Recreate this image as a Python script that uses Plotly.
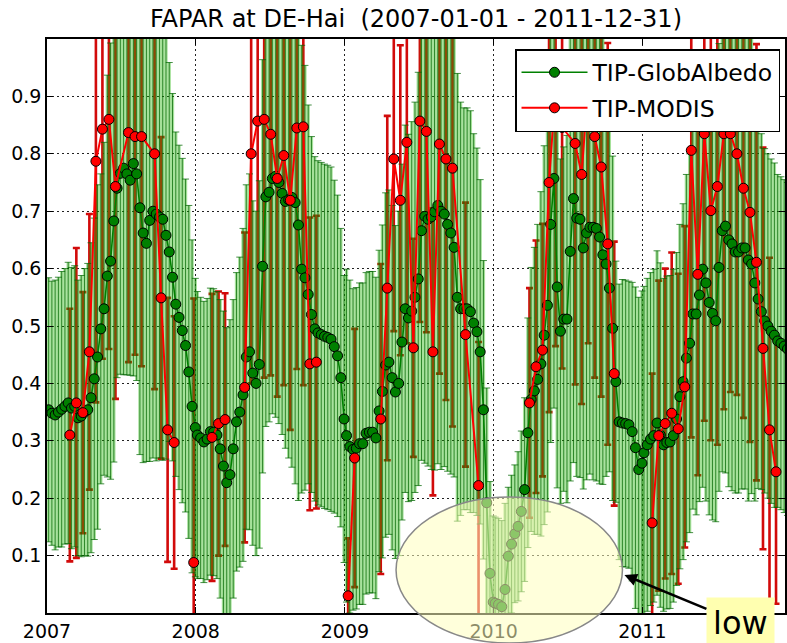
import pandas as pd
import plotly.graph_objects as go

years = [2007, 2008, 2009, 2010, 2011]

# TIP-GlobAlbedo FAPAR, 8-day composites (46 per year)
ga_2007 = [0.354, 0.348, 0.345, 0.35, 0.355, 0.36, 0.366, 0.357, 0.36, 0.34, 0.343, 0.35, 0.354,
           0.375, 0.408, 0.446, 0.495, 0.53, 0.587, 0.613, 0.683, 0.74, 0.766, 0.775, 0.765, 0.754,
           0.783, 0.765, 0.706, 0.662, 0.644, 0.684, 0.70, 0.695, 0.69, 0.686, 0.658, 0.629, 0.585,
           0.538, 0.515, 0.492, 0.466, 0.42, 0.36, 0.323]
ga_2008 = [0.31, 0.305, 0.298, 0.303, 0.316, 0.315, 0.31, 0.286, 0.256, 0.227, 0.241, 0.286, 0.333,
           0.35, 0.38, 0.446, 0.455, 0.418, 0.40, 0.433, 0.604, 0.725, 0.733, 0.757, 0.761, 0.75,
           0.731, 0.717, 0.72, 0.724, 0.715, 0.676, 0.599, 0.584, 0.555, 0.52, 0.495, 0.488, 0.485,
           0.482, 0.48, 0.477, 0.464, 0.448, 0.41, 0.338]
ga_2009 = [0.309, 0.29, 0.285, 0.287, 0.295, 0.295, 0.313, 0.315, 0.315, 0.305, 0.352, 0.386, 0.432,
           0.437, 0.41, 0.385, 0.40, 0.472, 0.53, 0.514, 0.526, 0.55, 0.582, 0.666, 0.691, 0.686,
           0.69, 0.699, 0.71, 0.70, 0.695, 0.677, 0.662, 0.637, 0.55, 0.53, 0.53, 0.53, 0.525,
           0.505, 0.49, 0.455, 0.354, 0.192, 0.069, 0.019]
ga_2010 = [0.017, 0.015, 0.011, 0.041, 0.099, 0.12, 0.138, 0.151, 0.177, 0.215, 0.314, 0.372, 0.387,
           0.407, 0.434, 0.484, 0.536, 0.677, 0.757, 0.568, 0.491, 0.512, 0.512, 0.63, 0.722, 0.688,
           0.686, 0.636, 0.662, 0.672, 0.672, 0.67, 0.655, 0.624, 0.608, 0.566, 0.496, 0.403, 0.333,
           0.331, 0.33, 0.328, 0.316, 0.288, 0.25, 0.261]
ga_2011 = [0.279, 0.293, 0.303, 0.309, 0.331, 0.31, 0.293, 0.297, 0.298, 0.309, 0.338, 0.377, 0.403,
           0.444, 0.47, 0.521, 0.521, 0.554, 0.599, 0.575, 0.541, 0.522, 0.509, 0.602, 0.666, 0.674,
           0.65, 0.643, 0.629, 0.629, 0.636, 0.636, 0.615, 0.608, 0.575, 0.547, 0.525, 0.509, 0.50,
           0.491, 0.484, 0.474, 0.47, 0.465, 0.46, 0.455]

# TIP-GlobAlbedo 1-sigma uncertainty
ga_sigma_2007 = [0.23, 0.23, 0.235, 0.235, 0.24, 0.24, 0.245, 0.245, 0.245, 0.24, 0.245, 0.25, 0.255,
                 0.27, 0.28, 0.30, 0.27, 0.29, 0.35, 0.38, 0.42, 0.33, 0.35, 0.36, 0.35, 0.34,
                 0.37, 0.36, 0.43, 0.40, 0.38, 0.42, 0.43, 0.43, 0.42, 0.42, 0.39, 0.33, 0.32,
                 0.30, 0.30, 0.30, 0.29, 0.29, 0.29, 0.26]
ga_sigma_2008 = [0.25, 0.245, 0.245, 0.245, 0.25, 0.25, 0.25, 0.26, 0.27, 0.27, 0.27, 0.26, 0.26,
                 0.27, 0.29, 0.30, 0.31, 0.30, 0.30, 0.32, 0.36, 0.40, 0.40, 0.41, 0.42, 0.42,
                 0.42, 0.43, 0.45, 0.47, 0.49, 0.48, 0.39, 0.37, 0.33, 0.31, 0.30, 0.30, 0.30,
                 0.30, 0.30, 0.30, 0.29, 0.28, 0.26, 0.25]
ga_sigma_2009 = [0.29, 0.29, 0.28, 0.28, 0.28, 0.28, 0.28, 0.28, 0.28, 0.28, 0.28, 0.29, 0.30,
                 0.30, 0.30, 0.29, 0.30, 0.31, 0.32, 0.32, 0.33, 0.34, 0.36, 0.40, 0.43, 0.43,
                 0.44, 0.45, 0.45, 0.45, 0.44, 0.43, 0.42, 0.40, 0.39, 0.36, 0.35, 0.35, 0.35,
                 0.33, 0.32, 0.30, 0.26, 0.20, 0.16, 0.15]
ga_sigma_2010 = [0.15, 0.15, 0.15, 0.15, 0.12, 0.12, 0.12, 0.13, 0.14, 0.16, 0.20, 0.23, 0.25,
                 0.27, 0.30, 0.33, 0.36, 0.38, 0.40, 0.35, 0.30, 0.30, 0.32, 0.40, 0.46, 0.45,
                 0.45, 0.42, 0.43, 0.43, 0.44, 0.44, 0.43, 0.40, 0.37, 0.32, 0.30, 0.21, 0.24,
                 0.25, 0.25, 0.25, 0.26, 0.28, 0.30, 0.30]
ga_sigma_2011 = [0.29, 0.29, 0.29, 0.29, 0.30, 0.30, 0.29, 0.29, 0.29, 0.29, 0.29, 0.30, 0.31,
                 0.32, 0.33, 0.34, 0.35, 0.36, 0.38, 0.38, 0.37, 0.36, 0.35, 0.39, 0.42, 0.43,
                 0.43, 0.43, 0.42, 0.42, 0.42, 0.42, 0.42, 0.40, 0.38, 0.33, 0.31, 0.30, 0.30,
                 0.30, 0.30, 0.29, 0.29, 0.29, 0.29, 0.29]

# TIP-MODIS FAPAR, 16-day composites (23 per year), None = no retrieval
modis_2007 = [None, None, None, 0.31, 0.366, 0.349, 0.455, 0.787, 0.843, 0.86, 0.743, None,
              0.837, 0.83, 0.83, None, 0.80, 0.549, 0.319, 0.297, None, None, 0.088]
modis_2008 = [None, None, 0.306, 0.33, 0.337, None, None, 0.393, 0.80, 0.857, 0.86, 0.834,
              0.757, 0.797, 0.719, 0.845, 0.847, 0.434, 0.437, None, None, None, None]
modis_2009 = [0.03, 0.27, None, None, None, 0.338, 0.566, 0.791, 0.719, 0.82, 0.462, 0.857,
              0.839, 0.455, 0.817, 0.791, 0.775, None, 0.485, None, 0.222, None, None]
modis_2010 = [None, None, None, None, None, 0.366, 0.429, 0.458, 0.75, 0.915, 0.846, None,
              0.818, 0.764, 0.92, 0.83, 0.777, 0.643, 0.417, None, None, None, None]
modis_2011 = [None, 0.157, 0.309, 0.33, 0.348, 0.321, 0.394, 0.806, 0.59, 0.835, 0.701, 0.743,
              0.835, 0.835, 0.80, 0.74, 0.698, 0.611, 0.461, 0.319, 0.246, None, None]

# TIP-MODIS 1-sigma uncertainty
modis_sigma_2007 = [None, None, None, 0.22, 0.27, 0.21, 0.24, 0.42, 0.40, 0.40, 0.37, None,
                    0.40, 0.38, 0.40, None, 0.41, 0.28, 0.23, 0.22, None, None, 0.46]
modis_sigma_2008 = [None, None, 0.25, 0.23, 0.22, None, None, 0.27, 0.40, 0.42, 0.45, 0.42,
                    0.38, 0.40, 0.40, 0.42, 0.45, 0.255, 0.255, None, None, None, None]
modis_sigma_2009 = [0.10, 0.225, None, None, None, 0.27, 0.30, 0.30, 0.27, 0.35, 0.19, 0.35,
                    0.35, 0.25, 0.40, 0.42, 0.45, None, 0.23, None, 0.25, None, None]
modis_sigma_2010 = [None, None, None, None, None, 0.20, 0.22, 0.22, 0.40, 0.45, 0.42, None,
                    0.42, 0.40, 0.45, 0.42, 0.40, 0.35, 0.23, None, None, None, None]
modis_sigma_2011 = [None, 0.26, 0.27, 0.27, 0.28, 0.27, 0.28, 0.50, 0.35, 0.50, 0.40, 0.45,
                    0.48, 0.45, 0.42, 0.40, 0.40, 0.38, 0.35, 0.30, 0.23, None, None]

x_ticks = ["2007-01-01", "2008-01-01", "2009-01-01", "2010-01-01", "2011-01-01"]
y_ticks = [0.1, 0.2, 0.3, 0.4, 0.5, 0.6, 0.7, 0.8, 0.9]


def composite_dates(year, first_day, step, n):
    start = pd.Timestamp(year=year, month=1, day=1)
    return [start + pd.Timedelta(days=first_day + step * i) for i in range(n)]


def assemble(values_by_year, sigma_by_year, first_day, step):
    """Flatten yearly composites; break the line across runs of 2+ missing composites."""
    xs, ys, es = [], [], []
    missing = 0
    for year, vals, sig in zip(years, values_by_year, sigma_by_year):
        dates = composite_dates(year, first_day, step, len(vals))
        for d, v, s in zip(dates, vals, sig):
            if v is None:
                missing += 1
                continue
            if missing >= 2 and xs:
                xs.append(d)
                ys.append(None)
                es.append(None)
            missing = 0
            xs.append(d)
            ys.append(v)
            es.append(s)
    return xs, ys, es


ga_x, ga_y, ga_e = assemble([ga_2007, ga_2008, ga_2009, ga_2010, ga_2011],
                            [ga_sigma_2007, ga_sigma_2008, ga_sigma_2009, ga_sigma_2010, ga_sigma_2011],
                            4, 8)
md_x, md_y, md_e = assemble([modis_2007, modis_2008, modis_2009, modis_2010, modis_2011],
                            [modis_sigma_2007, modis_sigma_2008, modis_sigma_2009, modis_sigma_2010,
                             modis_sigma_2011],
                            8, 16)

hidden = dict(size=1, color="rgba(0,0,0,0)")
fig = go.Figure()

# MODIS uncertainty bars (underneath the translucent GlobAlbedo bars, which tint them brown)
fig.add_trace(go.Scatter(x=md_x, y=md_y, mode="markers", marker=hidden, showlegend=False,
                         hoverinfo="skip",
                         error_y=dict(type="data", array=md_e, visible=True, color="#d20a0a",
                                      thickness=2.6, width=3.5)))
# GlobAlbedo uncertainty bars: translucent body + dark core with caps
fig.add_trace(go.Scatter(x=ga_x, y=ga_y, mode="markers", marker=hidden, showlegend=False,
                         hoverinfo="skip",
                         error_y=dict(type="data", array=ga_e, visible=True,
                                      color="rgba(30,180,0,0.40)", thickness=3.3, width=0)))
fig.add_trace(go.Scatter(x=ga_x, y=ga_y, mode="markers", marker=hidden, showlegend=False,
                         hoverinfo="skip",
                         error_y=dict(type="data", array=ga_e, visible=True,
                                      color="rgba(0,100,0,0.72)", thickness=1.0, width=3.5)))

fig.add_trace(go.Scatter(x=ga_x, y=ga_y, mode="lines+markers", name="TIP-GlobAlbedo",
                         legendgroup="ga",
                         line=dict(color="#008000", width=1.6),
                         marker=dict(size=10, color="#008000", line=dict(color="black", width=1))))
fig.add_trace(go.Scatter(x=md_x, y=md_y, mode="lines+markers", name="TIP-MODIS",
                         legendgroup="md",
                         line=dict(color="#ff0000", width=2),
                         marker=dict(size=10, color="#ff0000", line=dict(color="black", width=1))))

W, H = 787, 643
L, R, T, B = 47, 0, 39, 30
pw, ph = W - L - R, H - T - B


def px(xp):
    return (xp - L) / pw


def py(yp):
    return (H - B - yp) / ph


axis_common = dict(ticks="inside", ticklen=6, tickwidth=1, tickcolor="black",
                   showline=True, linecolor="black", linewidth=1.5, mirror="ticks",
                   showgrid=True, gridcolor="#222", gridwidth=1, griddash="2px,3px",
                   zeroline=False, tickfont=dict(size=19, color="black"))

fig.update_xaxes(type="date", range=["2007-01-01", "2011-12-17"], tickvals=x_ticks,
                 tickformat="%Y", **axis_common)
fig.update_yaxes(range=[0, 1], tickvals=y_ticks, ticktext=[f"{v:.1f}" for v in y_ticks],
                 **axis_common)

fig.update_layout(
    width=W, height=H,
    margin=dict(l=L, r=R, t=T, b=B),
    paper_bgcolor="white", plot_bgcolor="white",
    font=dict(family="DejaVu Sans", color="black"),
    title=dict(text="FAPAR at DE-Hai\u00a0 (2007-01-01 - 2011-12-31)", x=0.5, xref="paper",
               xanchor="center", y=1 - 19 / H, yref="container", yanchor="middle",
               font=dict(size=24)),
    legend=dict(x=px(782), y=py(49), xanchor="right", yanchor="top", bgcolor="white",
                bordercolor="black", borderwidth=1.5, font=dict(size=23.5), tracegroupgap=2,
                itemwidth=66),
    shapes=[dict(type="circle", xref="paper", yref="paper", layer="above",
                 x0=px(397), x1=px(624), y0=py(497), y1=py(643),
                 fillcolor="rgba(255,255,190,0.55)", line=dict(color="#888", width=1.5))],
    annotations=[dict(xref="paper", yref="paper", x=px(626), y=py(575), text="low",
                      showarrow=True, arrowhead=2, arrowsize=1, arrowwidth=2.5,
                      arrowcolor="black", ax=116, ay=48, bgcolor="#ffffb0",
                      font=dict(size=32, color="black"), borderpad=6)],
)

fig.write_html("out.html")
